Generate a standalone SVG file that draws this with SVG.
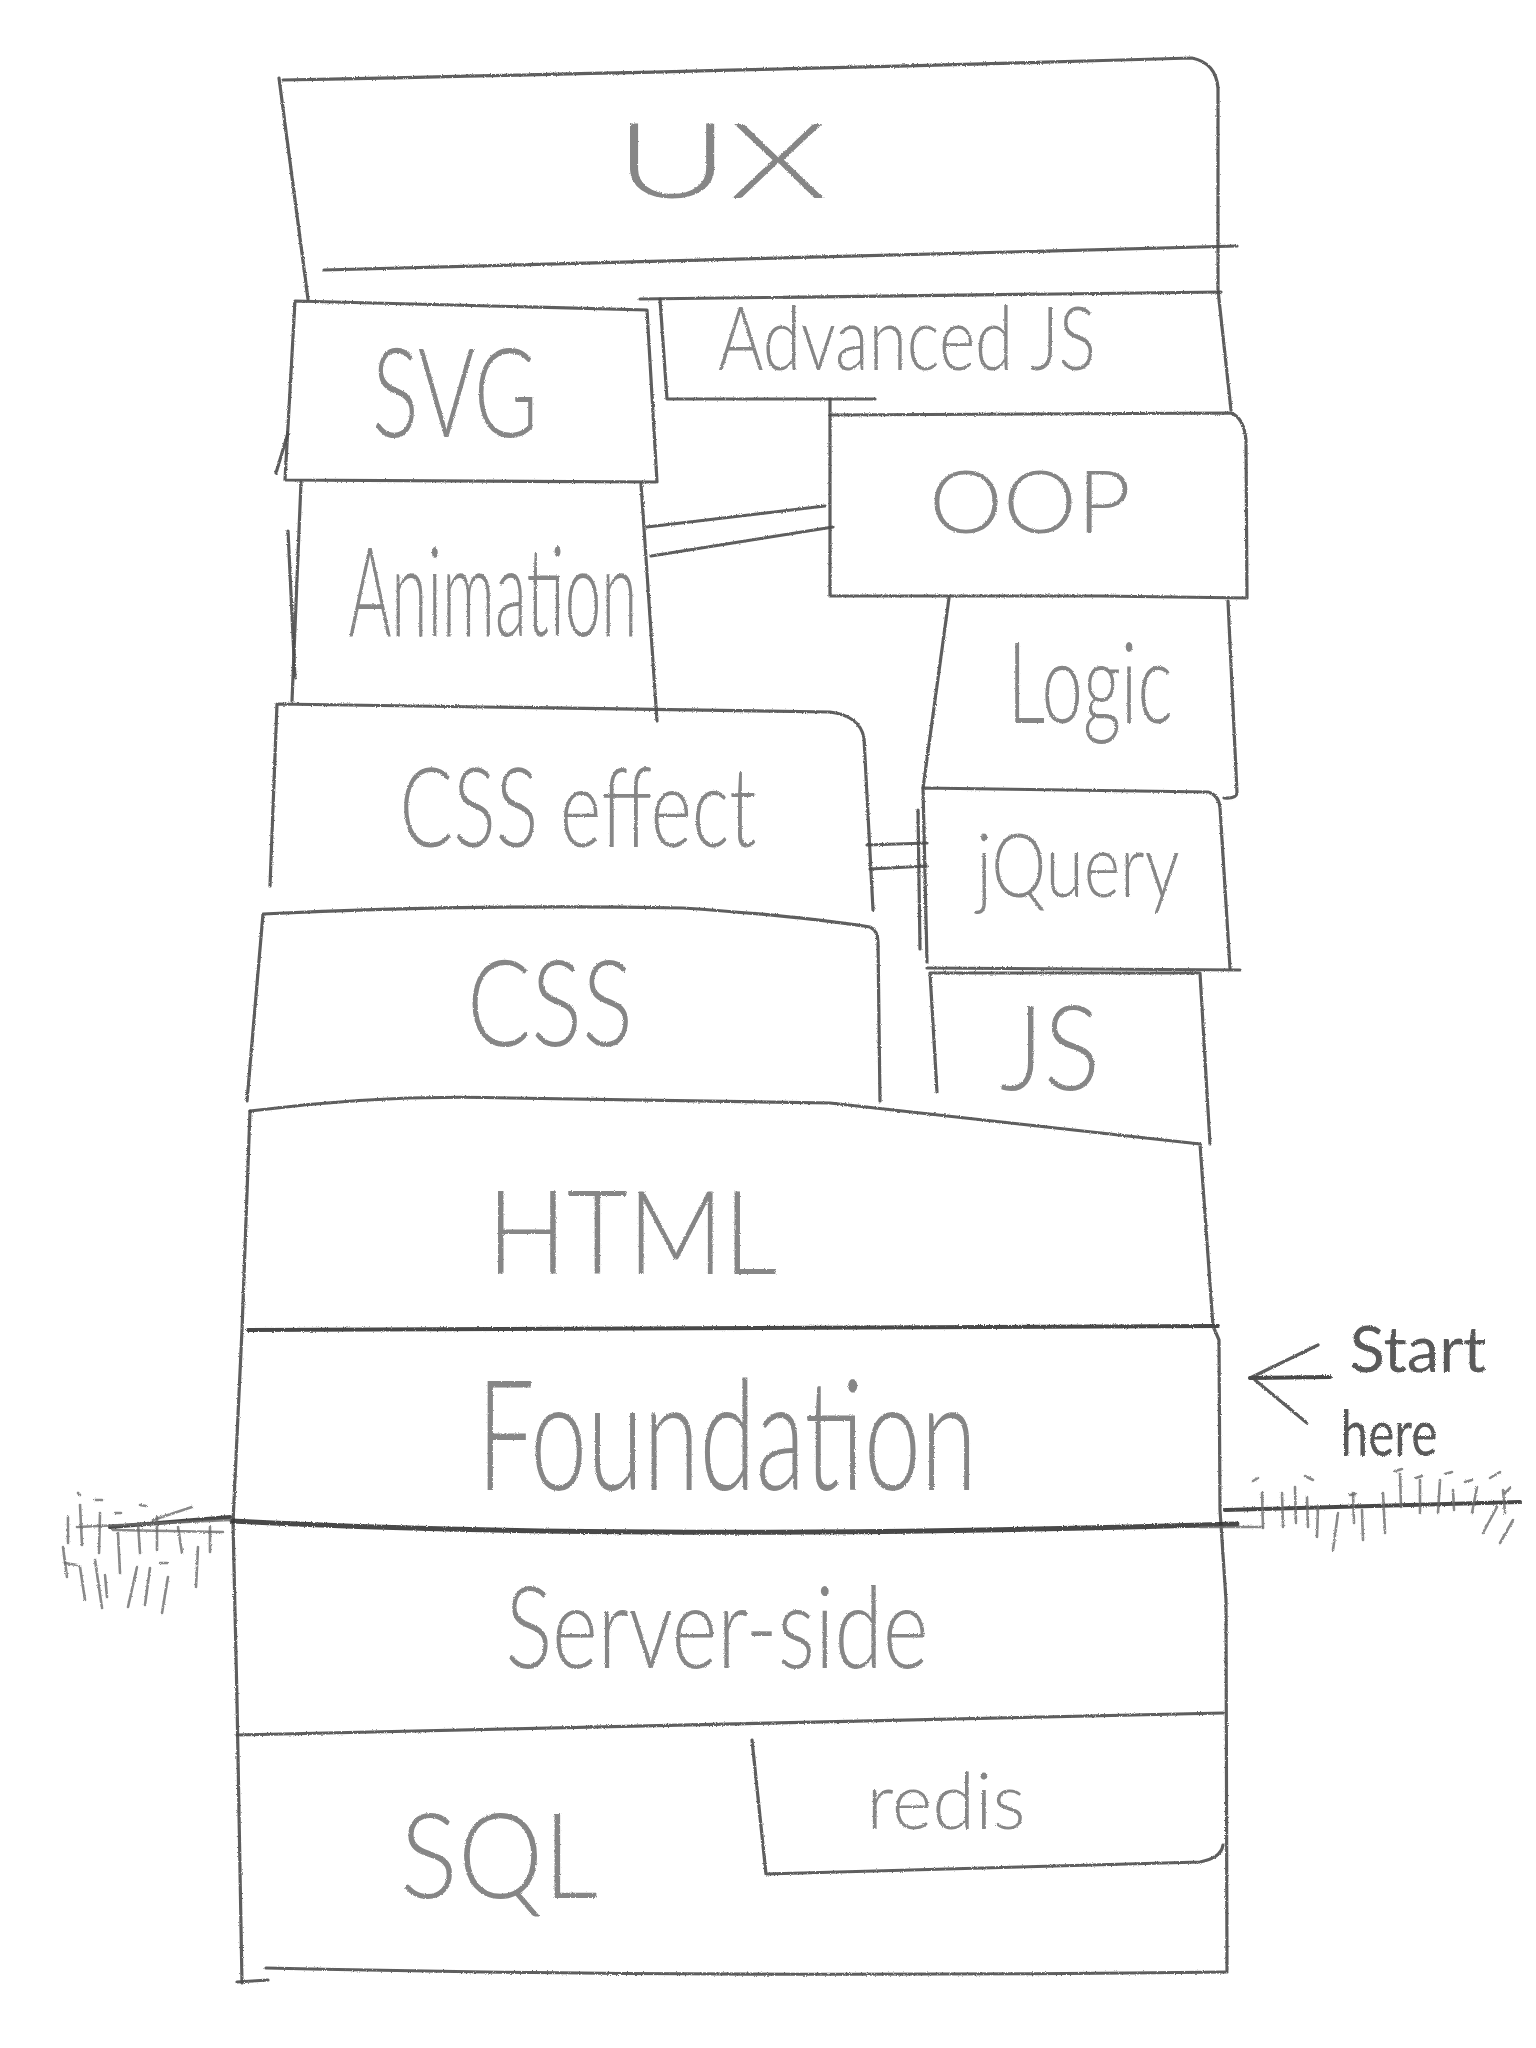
<svg xmlns="http://www.w3.org/2000/svg" width="1536" height="2048" viewBox="0 0 1536 2048">
<defs>
<filter id="pencil" x="-2%" y="-2%" width="104%" height="104%">
<feTurbulence type="fractalNoise" baseFrequency="0.9" numOctaves="2" seed="3" result="n"/>
<feDisplacementMap in="SourceGraphic" in2="n" scale="2.5" xChannelSelector="R" yChannelSelector="G"/>
</filter>
</defs>
<style>
.ln{fill:none;stroke:#4d4d4d;stroke-width:3.2;stroke-linecap:round;stroke-linejoin:round;opacity:.9}
.dk{fill:none;stroke:#333;stroke-width:5;stroke-linecap:round;opacity:.9}
.ht{fill:none;stroke:#6a6a6a;stroke-width:2.6;stroke-linecap:round;opacity:.8}
.tx{font-family:"Lato","Open Sans","Liberation Sans",sans-serif;font-weight:300;fill:#868686;text-anchor:middle}
</style>
<rect width="1536" height="2048" fill="#fff"/>
<g filter="url(#pencil)">
<g id="ux">
<path class="ln" d="M283,80 Q700,72 1192,58 Q1216,63 1218,88 L1218,290 L1231,410"/>
<path class="ln" d="M279,78 L308,299 L306,285"/>
<path class="ln" d="M324,270 L1237,246"/>
<text class="tx" x="721" y="198" font-size="104" textLength="212" lengthAdjust="spacingAndGlyphs">UX</text>
</g>
<g id="svg">
<path class="ln" d="M295,301 L647,310 L657,482 L285,480 Z"/>
<path class="ln" d="M276,473 L288,433"/>
<text class="tx" x="455" y="437" font-size="125" textLength="166" lengthAdjust="spacingAndGlyphs">SVG</text>
</g>
<g id="advancedjs">
<path class="ln" d="M640,299 L1221,292"/>
<path class="ln" d="M660,299 L667,399 L875,399"/>
<path class="ln" d="M830,399 L830,415"/>
<text class="tx" x="907" y="370" font-size="88" textLength="378" lengthAdjust="spacingAndGlyphs">Advanced JS</text>
</g>
<g id="oop">
<path class="ln" d="M830,415 L1231,413 Q1244,418 1246,440 L1247,598 L1100,596 L830,596 Z"/>
<text class="tx" x="1030" y="533" font-size="86" textLength="202" lengthAdjust="spacingAndGlyphs">OOP</text>
</g>
<g id="animation">
<path class="ln" d="M301,482 L292,701"/>
<path class="ln" d="M288,531 L295,678"/>
<path class="ln" d="M641,484 L657,721"/>
<text class="tx" x="493" y="636" font-size="125" textLength="289" lengthAdjust="spacingAndGlyphs">Animation</text>
</g>
<g id="logic">
<path class="ln" d="M949,598 L923,788"/>
<path class="ln" d="M1228,601 L1237,793 Q1236,799 1224,798"/>
<text class="tx" x="1090" y="723" font-size="112" textLength="165" lengthAdjust="spacingAndGlyphs">Logic</text>
</g>
<g id="csseffect">
<path class="ln" d="M270,886 L277,704 L830,712 Q860,716 864,738 L873,910"/>
<text class="tx" x="578" y="847" font-size="110" textLength="357" lengthAdjust="spacingAndGlyphs">CSS effect</text>
</g>
<g id="jquery">
<path class="ln" d="M927,962 L923,788 L1208,792 Q1219,795 1220,808 L1230,968"/>
<path class="ln" d="M918,810 L920,949"/>
<path class="ln" d="M927,968 L1240,970"/>
<text class="tx" x="1078" y="897" font-size="88" textLength="203" lengthAdjust="spacingAndGlyphs">jQuery</text>
</g>
<g id="css">
<path class="ln" d="M247,1101 L263,914 Q470,904 683,908 Q800,916 870,927 Q878,931 878,942 L880,1101"/>
<text class="tx" x="550" y="1046" font-size="120" textLength="166" lengthAdjust="spacingAndGlyphs">CSS</text>
</g>
<g id="js">
<path class="ln" d="M937,1092 L930,973 L1200,973 L1210,1144"/>
<text class="tx" x="1050" y="1090" font-size="118" textLength="100" lengthAdjust="spacingAndGlyphs">JS</text>
</g>
<g id="html">
<path class="ln" d="M250,1111 Q380,1094 510,1098 L830,1103 L1200,1144 L1213,1326"/>
<text class="tx" x="632" y="1274" font-size="116" textLength="290" lengthAdjust="spacingAndGlyphs">HTML</text>
</g>
<g id="foundation">
<path class="dk" d="M248,1330 L1218,1326" style="stroke-width:4"/>
<path class="ln" d="M250,1111 L242,1330 L233,1522 L237,1700 L242,1983"/>
<path class="ln" d="M1213,1326 L1219,1340 L1220,1510 L1226,1600 L1227,1970"/>
<path class="dk" d="M232,1521 Q640,1542 1237,1524"/>
<text class="tx" x="727" y="1490" font-size="155" textLength="500" lengthAdjust="spacingAndGlyphs">Foundation</text>
</g>
<g id="serverside">
<path class="ln" d="M237,1735 L1223,1713"/>
<text class="tx" x="717" y="1668" font-size="115" textLength="423" lengthAdjust="spacingAndGlyphs">Server-side</text>
</g>
<g id="redis">
<path class="ln" d="M752,1740 L766,1874 L1200,1862 Q1221,1858 1223,1845"/>
<text class="tx" x="946" y="1829" font-size="78" textLength="159" lengthAdjust="spacingAndGlyphs">redis</text>
</g>
<g id="sql">
<path class="ln" d="M266,1968 Q700,1978 1227,1972"/>
<path class="ln" d="M237,1982 L268,1980"/>
<text class="tx" x="499" y="1898" font-size="118" textLength="198" lengthAdjust="spacingAndGlyphs">SQL</text>
</g>
<g id="connectors">
<path class="ln" d="M647,527 L825,506"/>
<path class="ln" d="M651,556 L833,527"/>
<path class="ln" d="M867,845 L927,843"/>
<path class="ln" d="M870,869 L927,866"/>
</g>
<g id="start">
<path class="dk" d="M1330,1377 L1250,1378" style="stroke-width:4"/>
<path class="ln" d="M1250,1378 L1318,1345"/>
<path class="ln" d="M1255,1380 L1307,1423"/>
<text class="tx" x="1418" y="1372" font-size="64" textLength="137" lengthAdjust="spacingAndGlyphs" style="fill:#5a5a5a;font-weight:400">Start</text>
<text class="tx" x="1389" y="1456" font-size="64" textLength="97" lengthAdjust="spacingAndGlyphs" style="fill:#5a5a5a;font-weight:400">here</text>
</g>
<g id="ground">
<path class="dk" d="M110,1527 L230,1517" style="stroke-width:4"/>
<path class="ht" d="M77,1527 L230,1520"/>
<path class="ht" d="M113,1530 L223,1532"/>
<path class="ht" d="M153,1520 L192,1507"/>
<path class="ht" d="M78,1493 L80,1495 M95,1500 L102,1500 M115,1513 L121,1513 M140,1505 L146,1506 M160,1563 L167,1563 M65,1563 L77,1565"/>
<path class="ht" d="M68,1517 L68,1543 M80,1505 L82,1545 M100,1513 L99,1553 M118,1533 L120,1573 M138,1523 L140,1553 M157,1517 L157,1550 M178,1527 L182,1553 M210,1527 L210,1552 M198,1547 L196,1587"/>
<path class="ht" d="M63,1547 L67,1577 M80,1567 L85,1600 M95,1560 L102,1608 M105,1575 L107,1597 M137,1567 L128,1607 M150,1568 L145,1605 M168,1577 L162,1613"/>
<path class="dk" d="M1225,1510 L1520,1502" style="stroke-width:4"/>
<path class="ht" d="M1200,1527 L1262,1527"/>
<path class="ht" d="M1262,1493 L1263,1528 M1282,1493 L1283,1527 M1295,1487 L1296,1523 M1307,1497 L1308,1527 M1318,1507 L1317,1537 M1338,1513 L1333,1550 M1353,1493 L1354,1523 M1362,1510 L1363,1540 M1383,1493 L1385,1533 M1400,1473 L1401,1507 M1420,1480 L1420,1513 M1440,1480 L1438,1513 M1453,1490 L1454,1510 M1477,1487 L1472,1513 M1497,1507 L1483,1533 M1513,1520 L1500,1543 M1503,1490 L1505,1513"/>
<path class="ht" d="M1253,1481 L1258,1478 M1305,1476 L1313,1480 M1350,1495 L1356,1494 M1395,1471 L1402,1469 M1416,1478 L1422,1476 M1445,1474 L1452,1472 M1465,1482 L1472,1480 M1490,1478 L1500,1472 M1505,1493 L1510,1488"/>
</g>
</g>
</svg>
